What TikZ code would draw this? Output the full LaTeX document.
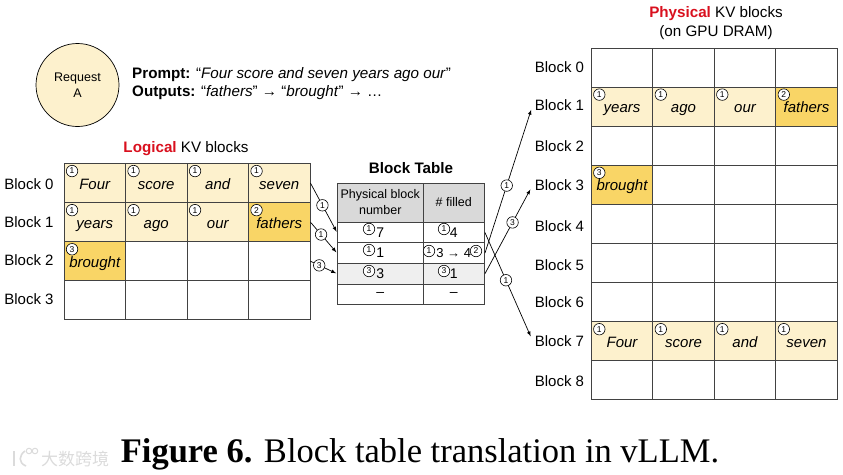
\documentclass[tikz,border=0pt]{standalone}
\usepackage{fontspec}
\setmainfont{Liberation Sans}
\newfontfamily\capfont{Liberation Serif}
\newfontfamily\cjkfont{Noto Sans CJK SC}
\usetikzlibrary{arrows}
\usetikzlibrary{positioning}
\definecolor{lightgold}{HTML}{FDF1CD}
\definecolor{darkgold}{HTML}{F9D566}
\definecolor{gridgray}{HTML}{424242}
\definecolor{headgray}{HTML}{D9D9D9}
\definecolor{rowgray}{HTML}{EFEFEF}
\definecolor{titlered}{HTML}{D9101E}
\tikzset{
  cell/.style={draw=gridgray,line width=0.9pt,minimum width=61.5pt,minimum height=39.1pt,inner sep=0pt,text height=15pt,text depth=3pt,font=\fontsize{15}{17}\selectfont\itshape},
  seen/.style={cell,fill=lightgold},
  fresh/.style={cell,fill=darkgold},
  badge/.style={draw=black,circle,fill=white,inner sep=0pt,minimum size=11.5pt,line width=0.6pt,font=\fontsize{8.5}{8.5}\selectfont},
  tag/.style={label={[badge,anchor=center,xshift=8.5pt,yshift=-8pt]north west:#1}},
  rowname/.style={inner sep=2pt,font=\fontsize{15}{17}\selectfont},
  title/.style={inner sep=0pt,align=center,font=\fontsize{15.2}{19}\selectfont},
  slot/.style={draw=gridgray,line width=0.9pt,inner sep=0pt,align=center,font=\fontsize{14}{16}\selectfont},
  link/.style={-latex,line width=0.7pt,shorten >=1pt},
}
\begin{document}
\begin{tikzpicture}[x=1pt,y=-1pt,node distance=39.1pt and 61.5pt,on grid]
  \useasboundingbox (0,0) rectangle (843,474);

  % request
  \node[draw=black,circle,fill=lightgold,minimum size=83pt,inner sep=0pt,line width=0.7pt,align=center,font=\fontsize{12.5}{16}\selectfont] (req) at (77.5,85) {Request\\A};
  \node[anchor=west,inner sep=0pt,align=left,font=\fontsize{15.2}{18}\selectfont] (prompt) at (132,84) {\textbf{Prompt:} “\textit{Four score and seven years ago our}”\\\textbf{Outputs:} “\textit{fathers}” → “\textit{brought}” → …};

  % logical blocks
  \node[title] (ltitle) at (186,149) {\textbf{\textcolor{titlered}{Logical}} KV blocks};
  \node[seen,tag=1] (l00) at (94.75,183.05) {Four};
  \node[seen,tag=1,right=of l00] (l01) {score};
  \node[seen,tag=1,right=of l01] (l02) {and};
  \node[seen,tag=1,right=of l02] (l03) {seven};
  \node[seen,tag=1,below=of l00] (l10) {years};
  \node[seen,tag=1,right=of l10] (l11) {ago};
  \node[seen,tag=1,right=of l11] (l12) {our};
  \node[fresh,tag=2,right=of l12] (l13) {fathers};
  \node[fresh,tag=3,below=of l10] (l20) {brought};
  \node[cell,right=of l20] (l21) {};
  \node[cell,right=of l21] (l22) {};
  \node[cell,right=of l22] (l23) {};
  \node[cell,below=of l20] (l30) {};
  \node[cell,right=of l30] (l31) {};
  \node[cell,right=of l31] (l32) {};
  \node[cell,right=of l32] (l33) {};

  \node[rowname] (lb0) at (29,184) {Block 0};
  \node[rowname] (lb1) at (29,222) {Block 1};
  \node[rowname] (lb2) at (29,260) {Block 2};
  \node[rowname] (lb3) at (29,299) {Block 3};

  % block table
  \node[title,font=\fontsize{15.2}{19}\selectfont\bfseries] (ttitle) at (411,168) {Block Table};
  \node[slot,fill=headgray,minimum width=85.5pt,minimum height=39pt,font=\fontsize{12.5}{16}\selectfont] (h0) at (380.25,202.5) {Physical block\\number};
  \node[slot,fill=headgray,minimum width=61.5pt,minimum height=39pt,font=\fontsize{12.5}{16}\selectfont] (h1) at (453.75,202.5) {\# filled};
  \node[slot,minimum width=85.5pt,minimum height=20.6pt] (t0) at (380.25,232.5) {7};
  \node[slot,minimum width=61.5pt,minimum height=20.6pt] (f0) at (453.75,232.5) {4};
  \node[slot,minimum width=85.5pt,minimum height=20.6pt] (t1) at (380.25,253.1) {1};
  \node[slot,minimum width=61.5pt,minimum height=20.6pt,font=\fontsize{13}{16}\selectfont] (f1) at (453.75,253.1) {3 → 4};
  \node[slot,fill=rowgray,minimum width=85.5pt,minimum height=20.6pt] (t2) at (380.25,273.7) {3};
  \node[slot,fill=rowgray,minimum width=61.5pt,minimum height=20.6pt] (f2) at (453.75,273.7) {1};
  \node[slot,minimum width=85.5pt,minimum height=20.6pt] (t3) at (380.25,294.3) {–};
  \node[slot,minimum width=61.5pt,minimum height=20.6pt] (f3) at (453.75,294.3) {–};

  \node[badge] (bt0) at (369,229) {1};
  \node[badge] (bf0) at (444,229) {1};
  \node[badge] (bt1) at (369,250) {1};
  \node[badge] (bf1) at (429,251) {1};
  \node[badge] (bg1) at (476,251) {2};
  \node[badge] (bt2) at (369,271) {3};
  \node[badge] (bf2) at (444,271) {3};

  % physical blocks
  \node[title] (ptitle) at (716,23.5) {\textbf{\textcolor{titlered}{Physical}} KV blocks\\(on GPU DRAM)};
  \node[cell] (p00) at (622,67.5) {};
  \node[cell,right=of p00] (p01) {};
  \node[cell,right=of p01] (p02) {};
  \node[cell,right=of p02] (p03) {};
  \node[seen,tag=1,below=of p00] (p10) {years};
  \node[seen,tag=1,right=of p10] (p11) {ago};
  \node[seen,tag=1,right=of p11] (p12) {our};
  \node[fresh,tag=2,right=of p12] (p13) {fathers};
  \node[cell,below=of p10] (p20) {};
  \node[cell,right=of p20] (p21) {};
  \node[cell,right=of p21] (p22) {};
  \node[cell,right=of p22] (p23) {};
  \node[fresh,tag=3,below=of p20] (p30) {brought};
  \node[cell,right=of p30] (p31) {};
  \node[cell,right=of p31] (p32) {};
  \node[cell,right=of p32] (p33) {};
  \node[cell,below=of p30] (p40) {};
  \node[cell,right=of p40] (p41) {};
  \node[cell,right=of p41] (p42) {};
  \node[cell,right=of p42] (p43) {};
  \node[cell,below=of p40] (p50) {};
  \node[cell,right=of p50] (p51) {};
  \node[cell,right=of p51] (p52) {};
  \node[cell,right=of p52] (p53) {};
  \node[cell,below=of p50] (p60) {};
  \node[cell,right=of p60] (p61) {};
  \node[cell,right=of p61] (p62) {};
  \node[cell,right=of p62] (p63) {};
  \node[seen,tag=1,below=of p60] (p70) {Four};
  \node[seen,tag=1,right=of p70] (p71) {score};
  \node[seen,tag=1,right=of p71] (p72) {and};
  \node[seen,tag=1,right=of p72] (p73) {seven};
  \node[cell,below=of p70] (p80) {};
  \node[cell,right=of p80] (p81) {};
  \node[cell,right=of p81] (p82) {};
  \node[cell,right=of p82] (p83) {};

  \node[rowname] (pb0) at (559.5,67) {Block 0};
  \node[rowname] (pb1) at (559.5,105) {Block 1};
  \node[rowname] (pb2) at (559.5,146) {Block 2};
  \node[rowname] (pb3) at (559.5,185) {Block 3};
  \node[rowname] (pb4) at (559.5,226) {Block 4};
  \node[rowname] (pb5) at (559.5,265) {Block 5};
  \node[rowname] (pb6) at (559.5,302) {Block 6};
  \node[rowname] (pb7) at (559.5,341) {Block 7};
  \node[rowname] (pb8) at (559.5,381) {Block 8};

  % translation arrows
  \draw[link](l03.east)-- node[badge,pos=0.45](a0){1} (t0.west);
  \draw[link](l13.east)-- node[badge,pos=0.4](a1){1} (t1.west);
  \draw[link](l23.east)-- node[badge,pos=0.33](a2){3} (t2.west);
  \draw[link,shorten >=5pt](f0.east)-- node[badge,pos=0.44](a3){1} (pb7.west);
  \draw[link,shorten >=5pt](f1.east)-- node[badge,pos=0.456](a4){1} (pb1.west);
  \draw[link,shorten >=5pt](f2.east)-- node[badge,pos=0.578](a5){3} (pb3.west);

  % caption and mark
  \node[inner sep=0pt,font=\capfont\fontsize{34.5}{36}\selectfont] (cap) at (420,454) {\textbf{Figure 6.} Block table translation in vLLM.};
  \node[inner sep=0pt,text=black!14,font=\cjkfont\fontsize{17}{19}\selectfont] (mark) at (75,459) {大数跨境};
  \draw[black!14,line width=1.6pt] (14,451) -- (14,466);
  \draw[black!14,line width=1.6pt] (25,451) .. controls (19,455) and (18,463) .. (26,466);
  \node[draw=black!14,circle,inner sep=0pt,minimum size=5.5pt,line width=1pt] (loop1) at (29,451) {};
  \node[draw=black!14,circle,inner sep=0pt,minimum size=5.5pt,line width=1pt] (loop2) at (35,451) {};
\end{tikzpicture}
\end{document}
